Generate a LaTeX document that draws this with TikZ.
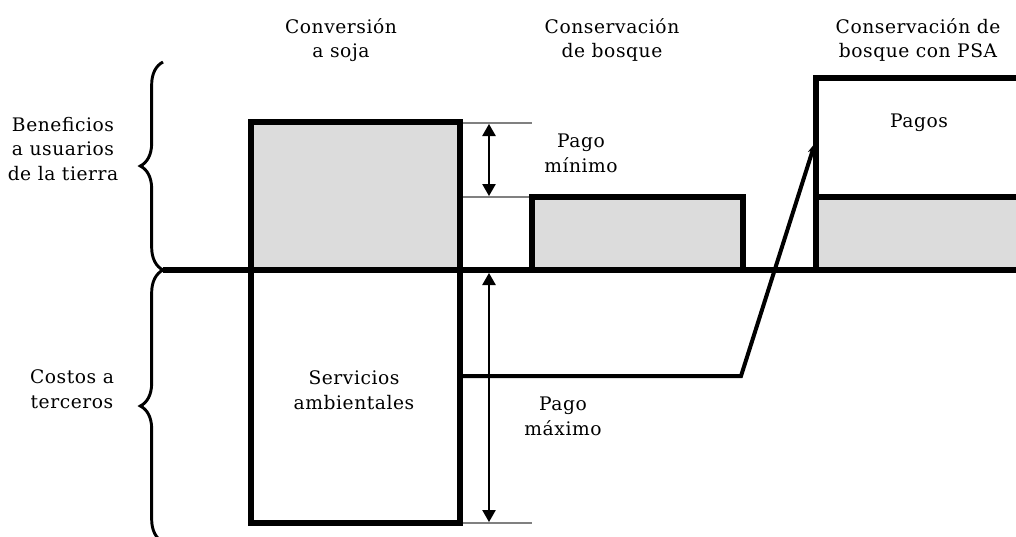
\documentclass[tikz,border=0pt]{standalone}
\usepackage{fontspec}
\setmainfont[LetterSpace=3]{DejaVu Serif}
\usetikzlibrary{decorations.pathreplacing,arrows.meta}
\definecolor{boxgray}{HTML}{DCDCDC}
\definecolor{thingray}{HTML}{808080}
\begin{document}
\begin{tikzpicture}[x=0.75pt,y=-0.75pt,
  boxline/.style={draw=black,line width=4.5pt,line join=miter},
  baseln/.style={draw=black,line width=4.5pt},
  lbl/.style={font=\fontsize{14pt}{18.5pt}\selectfont,align=center,inner sep=0pt},
  thinl/.style={draw=thingray,line width=0.8pt},
  dimarrow/.style={draw=black,line width=1.1pt,{Triangle[length=9pt,width=10pt]}-{Triangle[length=9pt,width=10pt]}},
  conn/.style={draw=black,line width=3pt,-{Stealth[length=8pt,width=6pt]}},
  bracestyle/.style={draw=black,line width=2.2pt,decorate,decoration={brace,amplitude=17pt}}
]
\useasboundingbox (0,0) rectangle (1016,536);
\fill[white] (0,0) rectangle (1016,536);
\clip (0,0) rectangle (1016,536);

% headers
\node[lbl] (h1) at (341,40) {Conversión\\a soja};
\node[lbl] (h2) at (612,40) {Conservación\\de bosque};
\node[lbl] (h3) at (918,40) {Conservación de\\bosque con PSA};

% left labels
\node[lbl] (ben) at (63,149) {Beneficios\\a usuarios\\de la tierra};
\node[lbl] (cost) at (72,389) {Costos a\\terceros};

% braces
\coordinate (bTop) at (163,62);
\coordinate (bMid) at (163,270);
\coordinate (bBot) at (163,542);
\draw[bracestyle] (bMid) -- (bTop);
\draw[bracestyle] (bBot) -- (bMid);

% thin guide lines
\coordinate (g1a) at (460,123);
\coordinate (g1b) at (532,123);
\coordinate (g2a) at (460,197);
\coordinate (g2b) at (532,197);
\coordinate (g3a) at (460,523);
\coordinate (g3b) at (532,523);
\draw[thinl] (g1a) -- (g1b);
\draw[thinl] (g2a) -- (g2b);
\draw[thinl] (g3a) -- (g3b);

% boxes
\fill[boxgray] (251,122) rectangle (460,270);
\draw[boxline] (251,122) rectangle (460,270);
\draw[boxline] (251,270) rectangle (460,523);
\fill[boxgray] (532,197) rectangle (743,270);
\draw[boxline] (532,197) rectangle (743,270);
\fill[boxgray] (816,197) rectangle (1030,270);
\draw[boxline] (816,78) rectangle (1030,270);
\draw[boxline] (816,197) -- (1030,197);

% baseline
\draw[baseln] (bMid) -- (1030,270);

% dimension arrows
\coordinate (a1t) at (489,124);
\coordinate (a1b) at (489,196);
\coordinate (a2t) at (489,273);
\coordinate (a2b) at (489,522);
\draw[dimarrow] (a1t) -- (a1b);
\draw[dimarrow] (a2t) -- (a2b);

% inner labels
\node[lbl] (pmin) at (581,153) {Pago\\mínimo};
\node[lbl] (pmax) at (563,416) {Pago\\máximo};
\node[lbl] (serv) at (354,390) {Servicios\\ambientales};
\node[lbl] (pagos) at (919,123) {Pagos};

% connector
\coordinate (servR) at (460,376);
\coordinate (bend) at (741,376);
\coordinate (pagosL) at (815,143);
\draw[conn] (servR) -- (bend) -- (pagosL);
\end{tikzpicture}
\end{document}
